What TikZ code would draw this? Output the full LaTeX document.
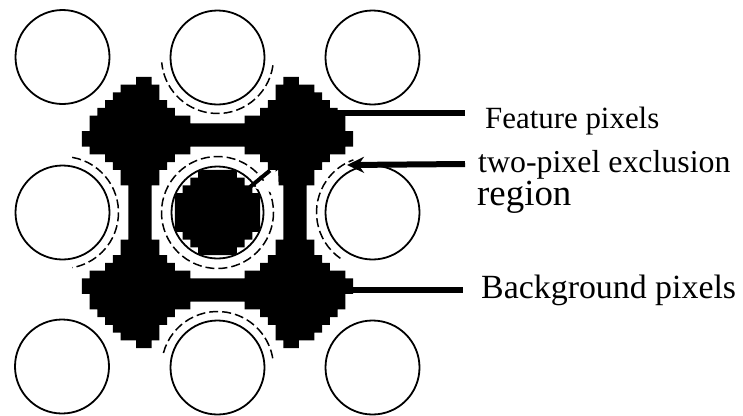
\documentclass[tikz,border=0pt]{standalone}
\usepackage{fontspec}
\setmainfont{Liberation Serif}
\usetikzlibrary{arrows.meta}
\begin{document}
\begin{tikzpicture}[x=1bp,y=-1bp,
  ring/.style={draw=black, line width=1.8bp, circle, minimum size=94bp, inner sep=0pt},
  excl/.style={draw=black, line width=1.5bp, dash pattern=on 9bp off 4bp},
  leader/.style={line width=6bp},
  lbl/.style={anchor=base west, inner sep=0pt, font=\fontsize{#1}{#1}\selectfont}]
\useasboundingbox (0,0) rectangle (743,415);
% ---- pixelated regions (grid of 7.75bp pixels centred on the middle circle)
\gdef\pixA{}\gdef\pixB{}
\foreach \i in {-20,...,20}{\foreach \j in {-20,...,20}{%
  \ifnum\numexpr(\i)*(\i)+(\j)*(\j)\relax<31
    \xdef\pixB{\pixB (\i,\j) rectangle (\the\numexpr\i+1\relax,\the\numexpr\j+1\relax)}%
  \fi
  \ifnum\numexpr(\i)*(\i)+(\j)*(\j)\relax<401
  \ifnum\numexpr(\i)*(\i)+(\j)*(\j)\relax>75
  \ifnum\numexpr(\i-20)*(\i-20)+(\j)*(\j)\relax>75
  \ifnum\numexpr(\i+20)*(\i+20)+(\j)*(\j)\relax>75
  \ifnum\numexpr(\i)*(\i)+(\j-20)*(\j-20)\relax>75
  \ifnum\numexpr(\i)*(\i)+(\j+20)*(\j+20)\relax>75
    \xdef\pixA{\pixA (\i,\j) rectangle (\the\numexpr\i+1\relax,\the\numexpr\j+1\relax)}%
  \fi\fi\fi\fi\fi\fi
}}
\begin{scope}[xshift=213.625bp, yshift=-208.625bp, x=7.75bp, y=-7.75bp]
  \expandafter\fill\pixA;
\end{scope}
\begin{scope}
  \clip (217.5,212.5) circle[radius=45.5];
  \begin{scope}[xshift=213.625bp, yshift=-208.625bp, x=7.75bp, y=-7.75bp]
    \expandafter\fill\pixB;
  \end{scope}
\end{scope}
% ---- circles
\node[ring] (tl) at (62.5,57) {};
\node[ring] (tm) at (217.5,57.5) {};
\node[ring] (tr) at (372.5,57.5) {};
\node[ring] (ml) at (62.5,212.5) {};
\node[ring, minimum size=92bp] (cc) at (217.5,212.5) {};
\node[ring] (mr) at (372.5,212.5) {};
\node[ring] (bl) at (62,366.5) {};
\node[ring] (bm) at (217.5,367.5) {};
\node[ring] (br) at (372.5,367.5) {};
% ---- exclusion boundaries
\draw[excl] (cc.center) circle[radius=56];
\draw[excl] ([shift={(8:56)}]tm.center) arc[start angle=8, end angle=175, radius=56];
\draw[excl] ([shift={(-80:56)}]ml.center) arc[start angle=-80, end angle=80, radius=56];
\draw[excl] ([shift={(125:56)}]mr.center) arc[start angle=125, end angle=250, radius=56];
\draw[excl] ([shift={(195:56)}]bm.center) arc[start angle=195, end angle=352, radius=56];
% ---- small pointer in the centre ring
\coordinate (t1) at (254,188); \coordinate (t2) at (278,170); \coordinate (t3) at (279,194);
\fill[white] (t1) -- (t2) -- (t3) -- cycle;
\coordinate (d1) at (250,187); \coordinate (d2) at (270,170.5);
\draw[line width=4bp] (d1) -- (d2);
% ---- labels
\node[lbl=31] (feat) at (485,128) {Feature pixels};
\node[lbl=32] (exl) at (478,172) {two-pixel exclusion};
\node[lbl=37] (reg) at (477,205) {region};
\node[lbl=34] (bg) at (481,298) {Background pixels};
\coordinate (fA) at (326,113); \coordinate (fB) at (465,113);
\draw[leader] (fA) -- (fB);
\coordinate (eA) at (465,164); \coordinate (eB) at (347,165);
\draw[leader, -{Stealth[length=17bp, width=16bp]}] (eA) -- (eB);
\coordinate (gA) at (342,290); \coordinate (gB) at (463,290);
\draw[leader] (gA) -- (gB);
\end{tikzpicture}
\end{document}
